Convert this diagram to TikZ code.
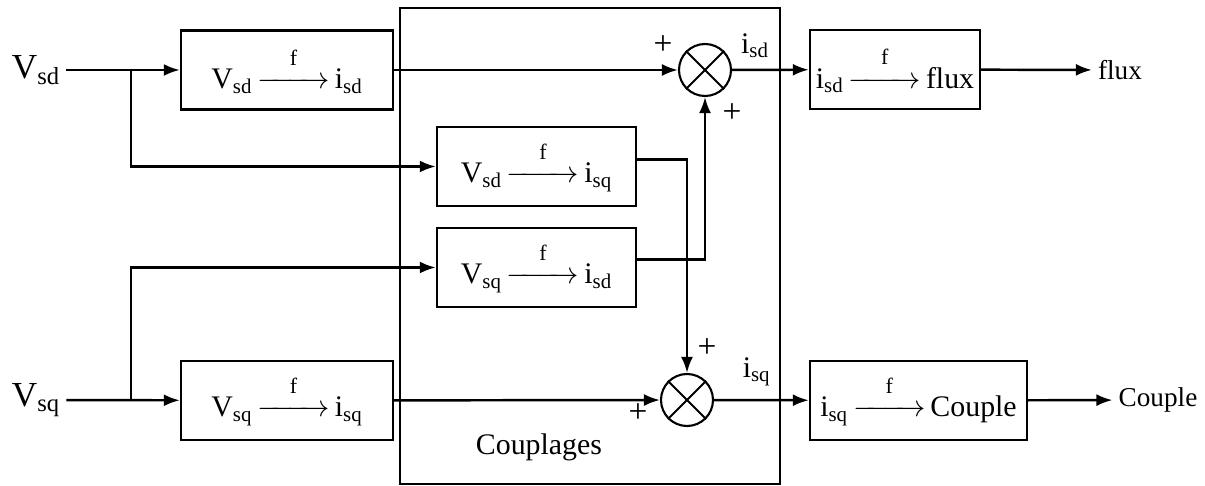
\documentclass[tikz,border=0pt]{standalone}
\usepackage{amsmath}
\usepackage{fontspec}
\setmainfont{Liberation Serif}
\usetikzlibrary{arrows.meta,positioning,calc}

% f-labelled mapping inside a block
\newcommand{\fmap}[2]{#1\,$\overset{\raisebox{3.5pt}{\fontsize{12.5}{14}\selectfont f}}{\makebox[1.45cm]{\rightarrowfill}}$\,#2}

\begin{document}
\begin{tikzpicture}[
  x=0.02cm, y=-0.02cm,
  block/.style={rectangle, draw, line width=1.4pt, minimum height=1.58cm, inner sep=1pt, font=\fontsize{17}{20}\selectfont},
  mult/.style={circle, draw, line width=1.2pt, minimum size=1.04cm, inner sep=0pt},
  arr/.style={-{Latex[length=3.2mm,width=2.4mm]}, line width=1.4pt},
  port/.style={font=\fontsize{20}{24}\selectfont},
  sig/.style={font=\fontsize{17}{20}\selectfont},
  outlbl/.style={font=\fontsize{15.5}{18}\selectfont},
  plus/.style={font=\fontsize{19}{21}\selectfont}
]
\useasboundingbox (0,0) rectangle (1205,486);

% Coupling frame
\node[rectangle, draw, line width=1.4pt, minimum width=7.6cm, minimum height=9.52cm] (frame) at (590,246) {};
\node[sig] (couplages) at (539,447) {Couplages};

% Inputs
\node[port] (vsd) at (36,70) {V\textsubscript{sd}};
\node[port] (vsq) at (36,400) {V\textsubscript{sq}};

% Blocks
\node[block, minimum width=4.24cm] (fsd) at (287,70) {\fmap{V\textsubscript{sd}}{i\textsubscript{sd}}};
\node[block, minimum width=3.98cm] (fsdq) at (536.5,166.5) {\fmap{V\textsubscript{sd}}{i\textsubscript{sq}}};
\node[block, minimum width=3.98cm] (fsqd) at (536.5,267.5) {\fmap{V\textsubscript{sq}}{i\textsubscript{sd}}};
\node[block, minimum width=4.24cm] (fsq) at (287,400.5) {\fmap{V\textsubscript{sq}}{i\textsubscript{sq}}};
\node[block, minimum width=3.4cm] (fflux) at (895,69.5) {\fmap{i\textsubscript{sd}}{flux}};
\node[block, minimum width=4.34cm] (fcouple) at (918.5,400.5) {\fmap{i\textsubscript{sq}}{Couple}};

% Multipliers
\node[mult] (muld) at (705,70) {};
\node[mult] (mulq) at (687,400) {};
\foreach \m in {muld,mulq}
  \draw[line width=1.1pt] (\m.north east) -- (\m.south west) (\m.north west) -- (\m.south east);

% Outputs
\node[outlbl] (flux) at (1120,70) {flux};
\node[outlbl] (couple) at (1158,400) {Couple};

% Branch points
\coordinate (jd) at (131,70);
\coordinate (jq) at (131,400);

% Connections
\draw[arr] (vsd) -- (fsd);
\draw[arr] (vsq) -- (fsq);
\draw[arr] (jd) |- (fsdq);
\draw[arr] (jq) |- (fsqd);
\draw[arr] (fsd) -- (muld);
\draw[arr] (fsq) -- (mulq);
\draw[arr] ([yshift=0.14cm]fsdq.east) -| (mulq);
\draw[arr] ([yshift=0.16cm]fsqd.east) -| (muld);
\draw[arr] (muld) -- node[sig, above=0.1cm, pos=0.3] {i\textsubscript{sd}} (fflux);
\draw[arr] (mulq) -- node[sig, above=0.14cm, pos=0.45] {i\textsubscript{sq}} (fcouple);
\draw[arr] (fflux) -- (flux);
\draw[arr] (fcouple) -- (couple);

% Signs
\node[plus] at (663,45) {+};
\node[plus] at (732,113) {+};
\node[plus] at (707,348) {+};
\node[plus] at (638,413) {+};

\end{tikzpicture}
\end{document}
